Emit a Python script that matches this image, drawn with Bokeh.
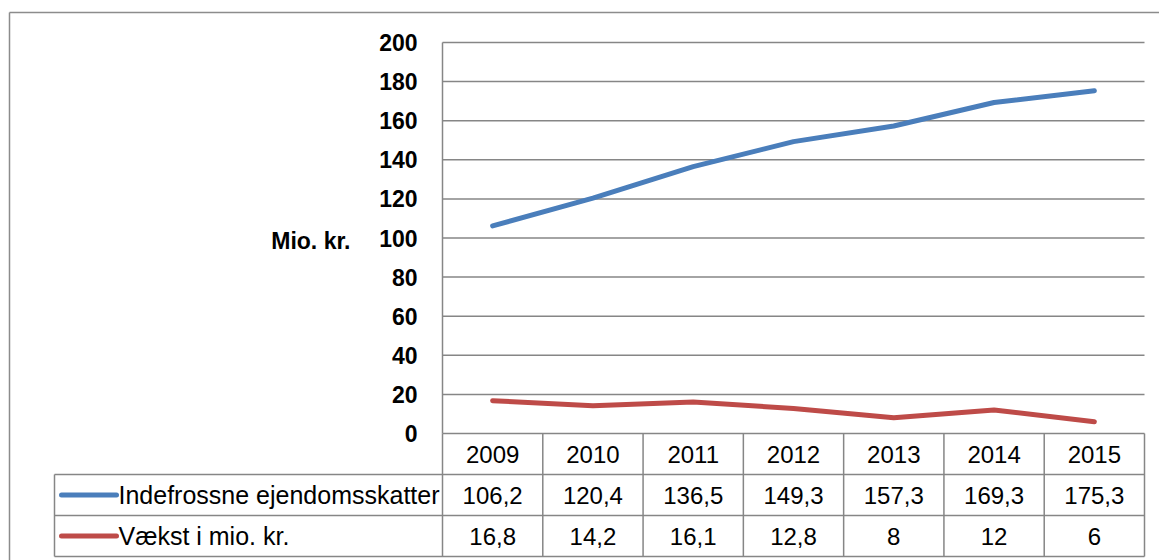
from bokeh.plotting import figure
from bokeh.models import Range1d
from bokeh.core.properties import value
from bokeh.embed import file_html
from bokeh.resources import INLINE

# ---- data ----
years = ["2009", "2010", "2011", "2012", "2013", "2014", "2015"]
frozen_tax = [106.2, 120.4, 136.5, 149.3, 157.3, 169.3, 175.3]
growth = [16.8, 14.2, 16.1, 12.8, 8, 12, 6]
series_names = ["Indefrossne ejendomsskatter", "Vækst i mio. kr."]
y_ticks = [0, 20, 40, 60, 80, 100, 120, 140, 160, 180, 200]
y_title = "Mio. kr."

# ---- layout (page pixel positions) ----
W, H = 1159, 560
OFF = 0
PLOT_L, PLOT_R, PLOT_T, PLOT_B = 442, 1144, 42, 433
Y_MAX = 200
n = len(years)
sx = (PLOT_R - PLOT_L) / n
sy = (PLOT_B - PLOT_T) / Y_MAX


def X(px):
    return -0.5 + (px - PLOT_L) / sx


def Y(py):
    return (PLOT_B - py) / sy


FONT = value("Liberation Sans")
GRID = "#868686"
BLUE = "#4A7EBB"
RED = "#BE4B48"

p = figure(width=W, height=H,
           x_range=Range1d(X(OFF), X(OFF + W)),
           y_range=Range1d(Y(OFF + H), Y(OFF)),
           x_axis_type=None, y_axis_type=None,
           output_backend="svg", toolbar_location=None,
           min_border=0, outline_line_color=None)
p.background_fill_color = "white"
p.border_fill_color = "white"

# outer chart border (left and top visible)
p.segment(x0=[X(9), X(9)], y0=[Y(12), Y(12)], x1=[X(9), X(1170)], y1=[Y(600), Y(12)],
          line_color="#8c8c8c", line_width=1.5)

# horizontal gridlines
p.segment(x0=[X(PLOT_L)] * len(y_ticks), x1=[X(PLOT_R)] * len(y_ticks),
          y0=y_ticks, y1=y_ticks, line_color=GRID, line_width=1.5)
# vertical axis line
p.segment(x0=[X(PLOT_L)], x1=[X(PLOT_L)], y0=[0], y1=[Y_MAX], line_color=GRID, line_width=1.5)

# data table grid
ROW = [433, 474, 515, 556]
TAB_L = 54
p.segment(x0=[X(TAB_L)] * 3, x1=[X(PLOT_R)] * 3, y0=[Y(r) for r in ROW[1:]],
          y1=[Y(r) for r in ROW[1:]], line_color=GRID, line_width=1.5)
col_edges = [i - 0.5 for i in range(n + 1)]
p.segment(x0=col_edges, x1=col_edges, y0=[Y(ROW[0])] * (n + 1), y1=[Y(ROW[3])] * (n + 1),
          line_color=GRID, line_width=1.5)
p.segment(x0=[X(TAB_L)], x1=[X(TAB_L)], y0=[Y(ROW[1])], y1=[Y(ROW[3])],
          line_color=GRID, line_width=1.5)

# series lines
xs = list(range(n))
p.line(xs, frozen_tax, line_color=BLUE, line_width=5, line_cap="round", line_join="round")
p.line(xs, growth, line_color=RED, line_width=5, line_cap="round", line_join="round")

# y tick labels
p.text(x=[X(417)] * len(y_ticks), y=y_ticks, text=[str(t) for t in y_ticks],
       text_align="right", text_baseline="middle", text_font=FONT,
       text_font_size="23px", text_font_style="bold", text_color="black")
p.text(x=[X(350)], y=[Y(240)], text=[y_title], text_align="right", text_baseline="middle",
       text_font=FONT, text_font_size="23px", text_font_style="bold", text_color="black")

# table texts
rc = [(ROW[i] + ROW[i + 1]) / 2 for i in range(3)]


def fmt(v):
    return f"{v:g}".replace(".", ",")


p.text(x=xs, y=[Y(rc[0])] * n, text=years, text_align="center", text_baseline="middle",
       text_font=FONT, text_font_size="24px", text_color="black")
p.text(x=xs, y=[Y(rc[1])] * n, text=[fmt(v) for v in frozen_tax], text_align="center",
       text_baseline="middle", text_font=FONT, text_font_size="24px", text_color="black")
p.text(x=xs, y=[Y(rc[2])] * n, text=[fmt(v) for v in growth], text_align="center",
       text_baseline="middle", text_font=FONT, text_font_size="24px", text_color="black")

# series names with legend keys
p.segment(x0=[X(61)] * 2, x1=[X(116)] * 2, y0=[Y(rc[1]), Y(rc[2])], y1=[Y(rc[1]), Y(rc[2])],
          line_color=[BLUE, RED], line_width=5, line_cap="round")
p.text(x=[X(118)] * 2, y=[Y(rc[1]), Y(rc[2])], text=series_names, text_align="left",
       text_baseline="middle", text_font=FONT, text_font_size="25px", text_color="black")

open("out.html", "w").write(file_html(p, INLINE))
